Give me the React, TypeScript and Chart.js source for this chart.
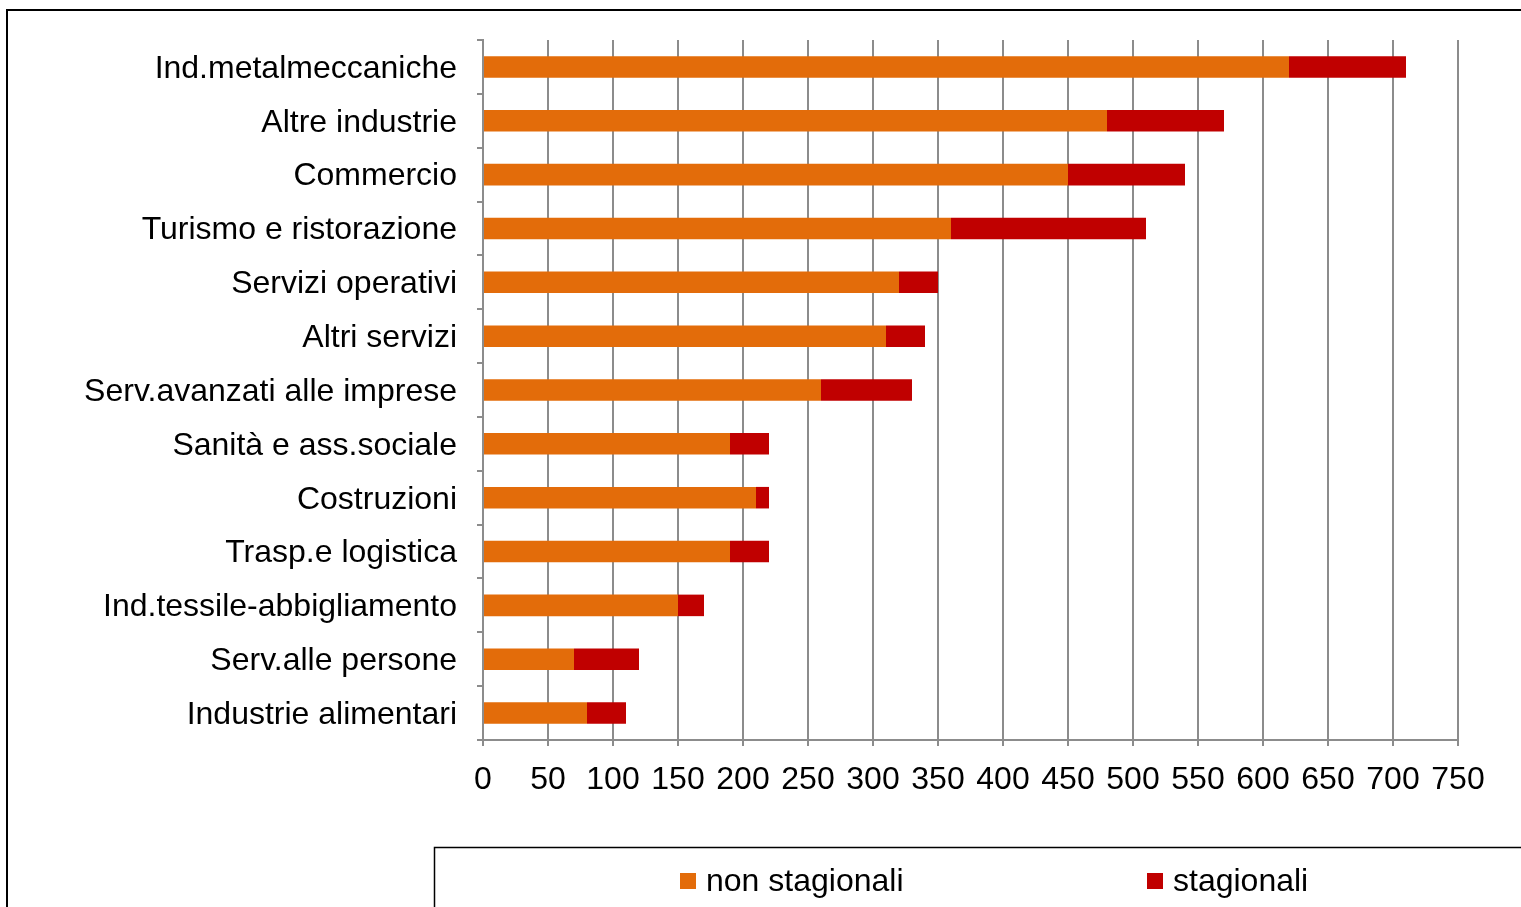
import React, { useEffect, useRef } from "react";
import { Chart, registerables } from "chart.js";

Chart.register(...registerables);

const categories = [
  "Ind.metalmeccaniche",
  "Altre industrie",
  "Commercio",
  "Turismo e ristorazione",
  "Servizi operativi",
  "Altri servizi",
  "Serv.avanzati alle imprese",
  "Sanità e ass.sociale",
  "Costruzioni",
  "Trasp.e logistica",
  "Ind.tessile-abbigliamento",
  "Serv.alle persone",
  "Industrie alimentari",
];

const nonStagionali = [620, 480, 450, 360, 320, 310, 260, 190, 210, 190, 150, 70, 80];
const stagionali = [90, 90, 90, 150, 30, 30, 70, 30, 10, 30, 20, 50, 30];

const seriesLabels = ["non stagionali", "stagionali"];
const seriesColors = ["#E36C0A", "#C00000"];

const xMin = 0;
const xMax = 750;
const xStep = 50;

const FONT = "'Liberation Sans', Arial, sans-serif";

const framePlugin = {
  id: "framePlugin",
  afterDraw(chart: any) {
    const ctx = chart.ctx;
    ctx.save();
    ctx.strokeStyle = "#000000";
    ctx.lineWidth = 2;
    ctx.strokeRect(7, 10, 1600, 1000);
    ctx.lineWidth = 1.5;
    ctx.strokeRect(434.5, 847.5, 1200, 200);
    // legend
    const items = chart.data.datasets.map((d: any) => ({ label: d.label, color: d.backgroundColor }));
    const xs = [680, 1147];
    ctx.font = `32px ${FONT}`;
    ctx.textBaseline = "middle";
    ctx.textAlign = "left";
    items.forEach((it: any, i: number) => {
      ctx.fillStyle = it.color;
      ctx.fillRect(xs[i], 873, 16, 16);
      ctx.fillStyle = "#000000";
      ctx.fillText(it.label, xs[i] + 26, 882);
    });
    ctx.restore();
  },
};

export default function App() {
  const ref = useRef<HTMLCanvasElement | null>(null);

  useEffect(() => {
    if (!ref.current) return;
    const chart = new Chart(ref.current, {
      type: "bar",
      data: {
        labels: categories,
        datasets: [
          {
            label: seriesLabels[0],
            data: nonStagionali,
            backgroundColor: seriesColors[0],
            barPercentage: 0.4,
            categoryPercentage: 1,
          },
          {
            label: seriesLabels[1],
            data: stagionali,
            backgroundColor: seriesColors[1],
            barPercentage: 0.4,
            categoryPercentage: 1,
          },
        ],
      },
      options: {
        indexAxis: "y",
        responsive: false,
        animation: false,
        layout: { padding: { left: 0, top: 40, right: 63, bottom: 0 } },
        plugins: {
          legend: { display: false },
          tooltip: { enabled: false },
        },
        scales: {
          x: {
            stacked: true,
            min: xMin,
            max: xMax,
            ticks: {
              stepSize: xStep,
              color: "#000000",
              font: { family: FONT, size: 32 },
              padding: 15,
              maxRotation: 0,
            },
            grid: {
              color: "#8c8c8c",
              lineWidth: 2,
              tickLength: 6,
              drawOnChartArea: true,
            },
            border: { color: "#8c8c8c", width: 2 },
            afterFit(scale: any) {
              scale.height = 167;
            },
          },
          y: {
            stacked: true,
            ticks: {
              color: "#000000",
              font: { family: FONT, size: 32 },
              padding: 20,
              labelOffset: 2,
              autoSkip: false,
            },
            grid: {
              color: "#8c8c8c",
              lineWidth: 2,
              tickLength: 6,
              drawOnChartArea: false,
            },
            border: { color: "#8c8c8c", width: 2 },
            afterFit(scale: any) {
              scale.width = 483;
            },
          },
        },
      },
      plugins: [framePlugin],
    });
    return () => chart.destroy();
  }, []);

  return (
    <div style={{ position: "absolute", left: 0, top: 0, width: 1521, height: 907, overflow: "hidden", background: "#ffffff" }}>
      <canvas ref={ref} width={1521} height={907} style={{ display: "block", width: 1521, height: 907 }} />
    </div>
  );
}
